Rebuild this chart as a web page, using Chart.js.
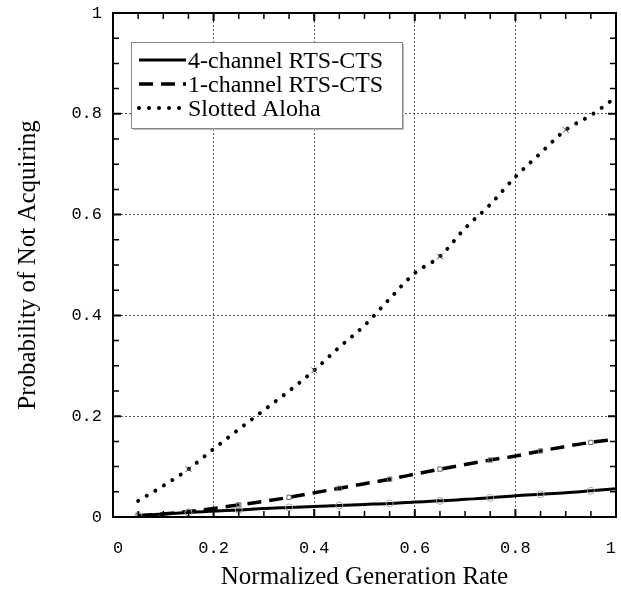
<!DOCTYPE html>
<html>
<head>
<meta charset="utf-8">
<script src="https://cdn.jsdelivr.net/npm/chart.js@4/dist/chart.umd.min.js"></script>
<style>
  html, body { margin: 0; padding: 0; background: #fff; overflow: hidden; }
  #wrap { width: 621px; height: 597px; }
</style>
</head>
<body>
<div id="wrap"><canvas id="myChart"></canvas></div>
<script>
// values
const genRate = [0.05, 0.10, 0.15, 0.20, 0.25, 0.30, 0.35, 0.40, 0.45, 0.50,
                 0.55, 0.60, 0.65, 0.70, 0.75, 0.80, 0.85, 0.90, 0.95, 1.00];
const fourChannel = [0.003, 0.006, 0.009, 0.012, 0.014, 0.017, 0.019, 0.021, 0.023, 0.025,
                     0.027, 0.030, 0.032, 0.035, 0.038, 0.042, 0.045, 0.048, 0.052, 0.056];
const oneChannel = [0.002, 0.006, 0.011, 0.017, 0.024, 0.031, 0.039, 0.048, 0.057, 0.066,
                    0.075, 0.085, 0.095, 0.104, 0.113, 0.121, 0.131, 0.140, 0.148, 0.154];
const slottedAloha = [0.032, 0.062, 0.095, 0.135, 0.174, 0.212, 0.250, 0.291, 0.337, 0.380,
                      0.433, 0.484, 0.517, 0.573, 0.620, 0.675, 0.722, 0.768, 0.797, 0.833];
const seriesLabels = ['4-channel RTS-CTS', '1-channel RTS-CTS', 'Slotted Aloha'];
const axisTicks = [0, 0.2, 0.4, 0.6, 0.8, 1];

const toPoints = ys => genRate.map((x, i) => ({ x: x, y: ys[i] }));

// inward tick marks, frame and the boxed legend
const framePlugin = {
    id: 'frame',
    afterDatasetsDraw(chart) {
        const ctx = chart.ctx;
        const a = chart.chartArea;
        const xs = chart.scales.x, ys = chart.scales.y;
        ctx.save();
        ctx.strokeStyle = '#000';
        for (let i = 0; i <= 20; i++) {
            const v = i / 20;
            const major = i % 4 === 0;
            const len = major ? 8 : 6;
            ctx.lineWidth = major ? 2 : 1.5;
            const px = xs.getPixelForValue(v);
            const py = ys.getPixelForValue(v);
            ctx.beginPath();
            ctx.moveTo(a.left, py); ctx.lineTo(a.left + len, py);
            ctx.moveTo(a.right, py); ctx.lineTo(a.right - len, py);
            ctx.moveTo(px, a.bottom); ctx.lineTo(px, a.bottom - len);
            ctx.moveTo(px, a.top); ctx.lineTo(px, a.top + len);
            ctx.stroke();
        }
        ctx.lineWidth = 2;
        ctx.strokeRect(a.left, a.top, a.right - a.left, a.bottom - a.top);

        // legend box
        const bx = 131, by = 42, bw = 271, bh = 86;
        ctx.fillStyle = '#fff';
        ctx.fillRect(bx, by, bw, bh);
        ctx.lineWidth = 1;
        ctx.strokeStyle = '#888';
        ctx.strokeRect(bx + 0.5, by + 0.5, bw, bh);
        ctx.strokeStyle = '#bbb';
        ctx.beginPath();
        ctx.moveTo(bx + bw + 1.5, by + 2); ctx.lineTo(bx + bw + 1.5, by + bh + 1.5);
        ctx.lineTo(bx + 2, by + bh + 1.5);
        ctx.stroke();

        ctx.font = '24px "Liberation Serif"';
        ctx.textBaseline = 'alphabetic';
        chart.data.datasets.forEach((ds, i) => {
            const ly = 60 + i * 24;
            ctx.strokeStyle = ds.borderColor;
            ctx.lineWidth = ds.borderWidth;
            ctx.lineCap = ds.borderCapStyle || 'butt';
            ctx.setLineDash(ds.borderDash || []);
            ctx.beginPath();
            ctx.moveTo(139, ly); ctx.lineTo(186, ly);
            ctx.stroke();
            ctx.setLineDash([]);
            ctx.fillStyle = '#000';
            ctx.fillText(ds.label, 188, ly + 8);
        });
        ctx.restore();
    }
};

const lineFont = { family: '"Liberation Mono"', size: 17 };
const titleFont = { family: '"Liberation Serif"', size: 25 };

new Chart(document.getElementById('myChart'), {
    type: 'line',
    data: {
        datasets: [{
            label: seriesLabels[0],
            data: toPoints(fourChannel),
            borderColor: '#000',
            borderWidth: 3,
            cubicInterpolationMode: 'monotone',
            pointStyle: 'circle',
            pointRadius: c => c.dataIndex % 2 === 0 ? 3.5 : 0,
            pointBorderColor: '#aaa',
            pointBackgroundColor: 'rgba(255,255,255,0)',
            pointBorderWidth: 1
        }, {
            label: seriesLabels[1],
            data: toPoints(oneChannel),
            borderColor: '#000',
            borderWidth: 3.5,
            borderDash: [14, 8],
            cubicInterpolationMode: 'monotone',
            pointStyle: 'rect',
            pointRadius: c => c.dataIndex % 2 === 0 ? 3 : 0,
            pointBorderColor: '#666',
            pointBackgroundColor: 'rgba(255,255,255,0)',
            pointBorderWidth: 1
        }, {
            label: seriesLabels[2],
            data: toPoints(slottedAloha),
            borderColor: '#000',
            borderWidth: 4,
            borderDash: [0.01, 10],
            borderCapStyle: 'round',
            cubicInterpolationMode: 'monotone',
            pointStyle: 'crossRot',
            pointRadius: c => c.dataIndex % 5 === 2 ? 4 : 0,
            pointBorderColor: '#444',
            pointBorderWidth: 1
        }]
    },
    options: {
        responsive: true,
        maintainAspectRatio: false,
        animation: false,
        events: [],
        layout: { padding: { top: 13, right: 3, left: 0, bottom: 0 } },
        plugins: {
            legend: { display: false },
            tooltip: { enabled: false }
        },
        scales: {
            x: {
                type: 'linear',
                min: 0,
                max: 1,
                afterFit: s => { s.height = 80; s.paddingLeft = 0; s.paddingRight = 0; },
                afterBuildTicks: s => { s.ticks = axisTicks.map(v => ({ value: v })); },
                grid: { color: '#555', lineWidth: 1, drawTicks: false },
                border: { display: false, dash: [2, 2] },
                ticks: { font: lineFont, color: '#000', padding: 21, align: 'inner', callback: v => String(v) },
                title: {
                    display: true,
                    text: 'Normalized Generation Rate',
                    font: titleFont,
                    color: '#000',
                    padding: { top: 0, bottom: 5 }
                }
            },
            y: {
                type: 'linear',
                min: 0,
                max: 1,
                afterFit: s => { s.width = 113; s.paddingTop = 0; s.paddingBottom = 0; },
                afterBuildTicks: s => { s.ticks = axisTicks.map(v => ({ value: v })); },
                grid: { color: '#555', lineWidth: 1, drawTicks: false },
                border: { display: false, dash: [2, 2] },
                ticks: { font: lineFont, color: '#000', padding: 11, callback: v => String(v) },
                title: {
                    display: true,
                    text: 'Probability of Not Acquiring',
                    font: titleFont,
                    color: '#000',
                    padding: { top: 13, bottom: 0 }
                }
            }
        }
    },
    plugins: [framePlugin]
});
</script>
</body>
</html>
